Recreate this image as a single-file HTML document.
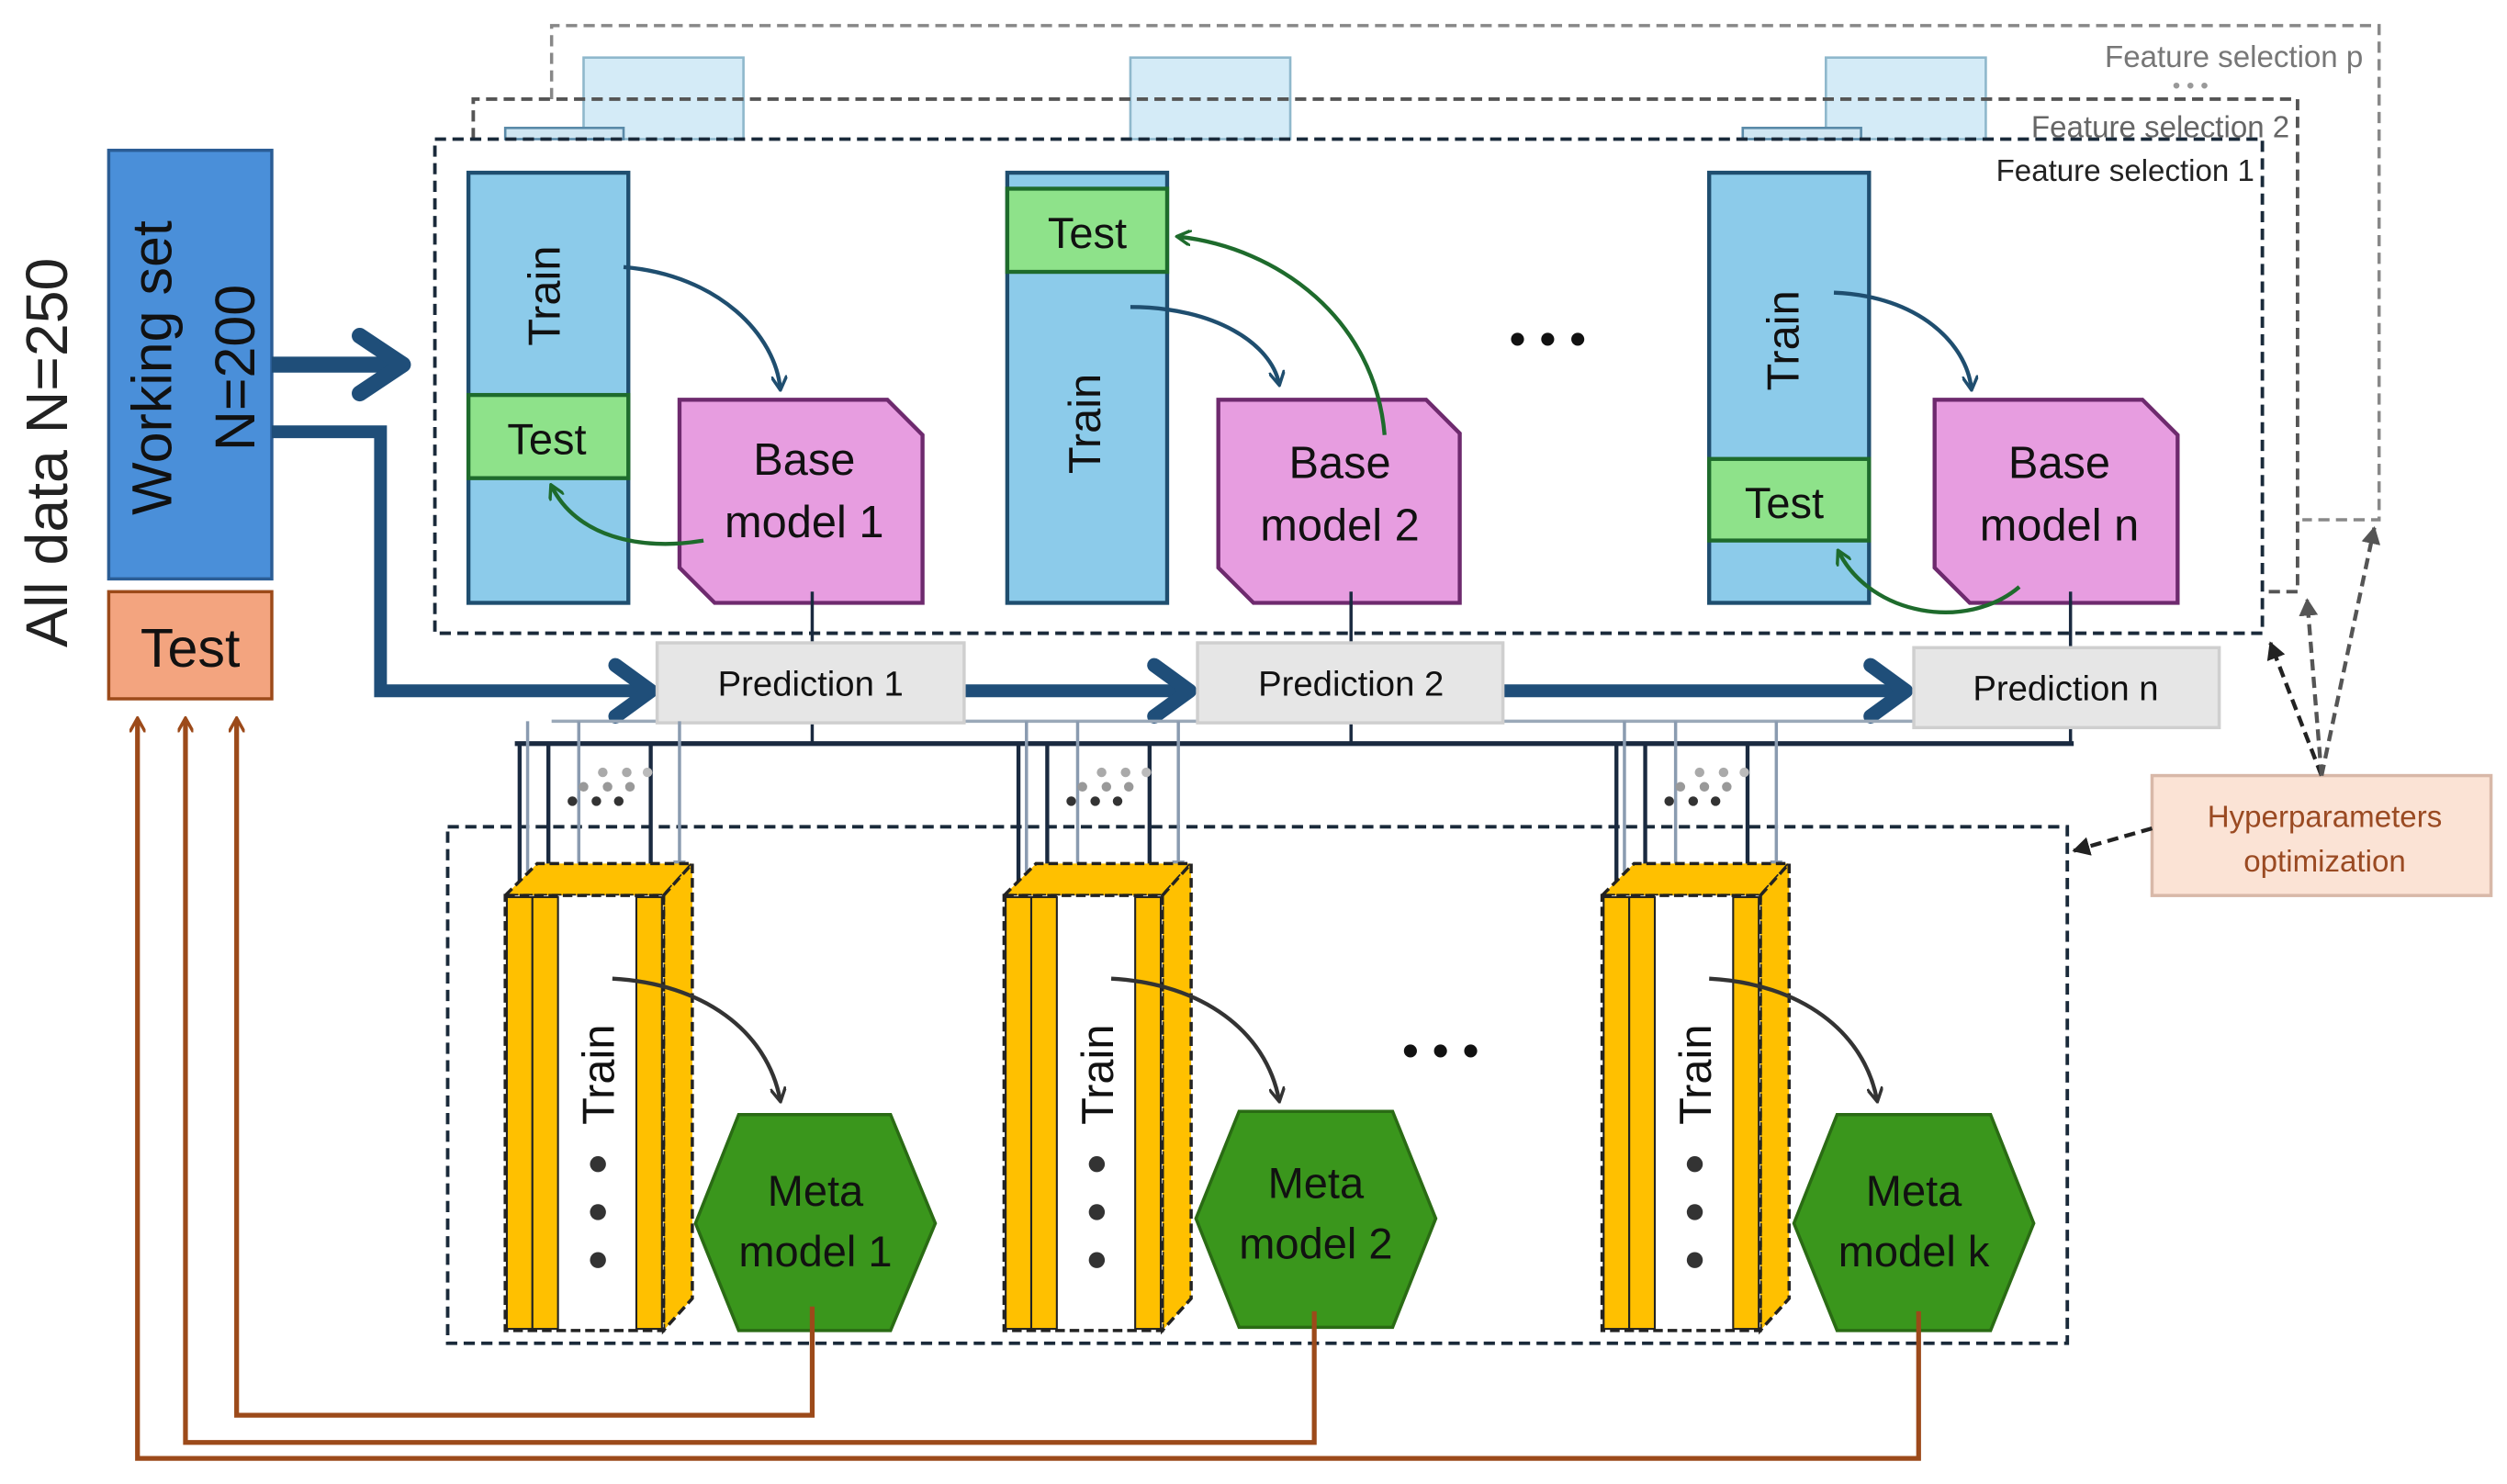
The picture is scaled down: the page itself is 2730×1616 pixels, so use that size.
<!DOCTYPE html>
<html><head><meta charset="utf-8"><style>
html,body{margin:0;padding:0;background:#fff;}
svg{display:block;}
text{font-family:"Liberation Sans",sans-serif;}
</style></head><body>
<svg width="2730" height="1616" viewBox="0 0 1568 928" preserveAspectRatio="none" xmlns="http://www.w3.org/2000/svg">
<defs>
<marker id="ab" markerWidth="10" markerHeight="10" refX="8" refY="5" orient="auto" markerUnits="userSpaceOnUse"><path d="M0,0 L9,5 L0,10" fill="none" stroke="#1f4e6f" stroke-width="2"/></marker>
<marker id="ag" markerWidth="10" markerHeight="10" refX="8" refY="5" orient="auto" markerUnits="userSpaceOnUse"><path d="M0,0 L9,5 L0,10" fill="none" stroke="#1e6b2c" stroke-width="2"/></marker>
<marker id="ak" markerWidth="10" markerHeight="10" refX="8" refY="5" orient="auto" markerUnits="userSpaceOnUse"><path d="M0,0 L9,5 L0,10" fill="none" stroke="#333" stroke-width="2"/></marker>
<marker id="ad" markerWidth="8" markerHeight="8" refX="7" refY="4" orient="auto" markerUnits="userSpaceOnUse"><path d="M0,0 L8,4 L0,8 Z" fill="#1a2a40"/></marker>
<marker id="al" markerWidth="8" markerHeight="8" refX="7" refY="4" orient="auto" markerUnits="userSpaceOnUse"><path d="M0,0 L8,4 L0,8 Z" fill="#8a9bb0"/></marker>
<marker id="abr" markerWidth="10" markerHeight="10" refX="8" refY="5" orient="auto" markerUnits="userSpaceOnUse"><path d="M0,0 L9,5 L0,10" fill="none" stroke="#9c4a1a" stroke-width="2"/></marker>
<marker id="ah" markerWidth="12" markerHeight="12" refX="10" refY="6" orient="auto" markerUnits="userSpaceOnUse"><path d="M0,0 L11,6 L0,12 Z" fill="#222"/></marker>
<marker id="ahg" markerWidth="12" markerHeight="12" refX="10" refY="6" orient="auto" markerUnits="userSpaceOnUse"><path d="M0,0 L11,6 L0,12 Z" fill="#555"/></marker>
</defs>

<rect x="365" y="36" width="100" height="51" fill="#d4ebf7" stroke="#8fb8cc" stroke-width="1.5"/>
<rect x="707" y="36" width="100" height="51" fill="#d4ebf7" stroke="#8fb8cc" stroke-width="1.5"/>
<rect x="1142" y="36" width="100" height="51" fill="#d4ebf7" stroke="#8fb8cc" stroke-width="1.5"/>
<path d="M345,62 L345,16 L1488,16 L1488,325 L1440,325" fill="none" stroke="#888" stroke-width="2" stroke-dasharray="7,4"/>
<rect x="316" y="80" width="74" height="7" fill="#cfe6f2" stroke="#5a8aa8" stroke-width="1.5"/>
<rect x="1090" y="80" width="74" height="7" fill="#cfe6f2" stroke="#5a8aa8" stroke-width="1.5"/>
<path d="M296,87 L296,62 L1437,62 L1437,370 L1415,370" fill="none" stroke="#555" stroke-width="2.2" stroke-dasharray="7,4"/>
<rect x="272" y="87" width="1143" height="309" fill="none" stroke="#1a2a3a" stroke-width="2.2" stroke-dasharray="7,4"/>
<text x="1478" y="42" font-size="19" fill="#777" text-anchor="end">Feature selection p</text>
<text x="1370" y="58" font-size="14" fill="#999" text-anchor="middle">• • •</text>
<text x="1432" y="86" font-size="19" fill="#666" text-anchor="end">Feature selection 2</text>
<text x="1410" y="113" font-size="19" fill="#222" text-anchor="end">Feature selection 1</text>

<text transform="translate(42,283) rotate(-90)" font-size="37" fill="#222" text-anchor="middle">All data N=250</text>
<rect x="68" y="94" width="102" height="268" fill="#4a8fd9" stroke="#2b5d95" stroke-width="2"/>
<text transform="translate(107,230) rotate(-90)" font-size="35" fill="#111" text-anchor="middle">Working set</text>
<text transform="translate(159,230) rotate(-90)" font-size="35" fill="#111" text-anchor="middle">N=200</text>
<rect x="68" y="370" width="102" height="67" fill="#f3a47f" stroke="#9c4a1a" stroke-width="2"/>
<text x="119" y="417" font-size="34" fill="#111" text-anchor="middle">Test</text>

<path d="M170,228 L250,228" stroke="#1f4e79" stroke-width="10" fill="none"/>
<path d="M225,210 L252,228 L225,246" stroke="#1f4e79" stroke-width="10" fill="none" stroke-linecap="round" stroke-linejoin="round"/>
<path d="M170,270 L238,270 L238,432 L405,432" stroke="#1f4e79" stroke-width="8" fill="none"/>
<path d="M385,416 L407,432 L385,448" stroke="#1f4e79" stroke-width="9" fill="none" stroke-linecap="round" stroke-linejoin="round"/>
<path d="M603,432 L742,432" stroke="#1f4e79" stroke-width="8" fill="none"/>
<path d="M722,416 L744,432 L722,448" stroke="#1f4e79" stroke-width="9" fill="none" stroke-linecap="round" stroke-linejoin="round"/>
<path d="M940,432 L1190,432" stroke="#1f4e79" stroke-width="8" fill="none"/>
<path d="M1170,416 L1192,432 L1170,448" stroke="#1f4e79" stroke-width="9" fill="none" stroke-linecap="round" stroke-linejoin="round"/>

<rect x="293" y="108" width="100" height="269" fill="#8ccbea" stroke="#1f4e6f" stroke-width="2.5"/>
<rect x="293" y="247" width="100" height="52" fill="#8ee28a" stroke="#1e6b2c" stroke-width="2.5"/>
<text transform="translate(350,185) rotate(-90)" font-size="28" fill="#111" text-anchor="middle">Train</text>
<text x="342" y="284" font-size="27" fill="#111" text-anchor="middle">Test</text>
<path d="M425,250 L555,250 L577,272 L577,377 L447,377 L425,355 Z" fill="#e79de0" stroke="#6e2a6e" stroke-width="2.5"/>
<text x="503" y="297" font-size="28" fill="#111" text-anchor="middle">Base</text>
<text x="503" y="336" font-size="28" fill="#111" text-anchor="middle">model 1</text>
<path d="M390,167 C450,172 485,210 488,243" fill="none" stroke="#1f4e6f" stroke-width="2.5" marker-end="url(#ab)"/>
<path d="M440,338 C400,345 360,335 345,304" fill="none" stroke="#1e6b2c" stroke-width="2.5" marker-end="url(#ag)"/>

<rect x="630" y="108" width="100" height="269" fill="#8ccbea" stroke="#1f4e6f" stroke-width="2.5"/>
<rect x="630" y="118" width="100" height="52" fill="#8ee28a" stroke="#1e6b2c" stroke-width="2.5"/>
<text transform="translate(688,265) rotate(-90)" font-size="28" fill="#111" text-anchor="middle">Train</text>
<text x="680" y="155" font-size="27" fill="#111" text-anchor="middle">Test</text>
<path d="M762,250 L892,250 L913,271 L913,377 L784,377 L762,355 Z" fill="#e79de0" stroke="#6e2a6e" stroke-width="2.5"/>
<text x="838" y="299" font-size="28" fill="#111" text-anchor="middle">Base</text>
<text x="838" y="338" font-size="28" fill="#111" text-anchor="middle">model 2</text>
<path d="M707,192 C760,192 795,215 800,240" fill="none" stroke="#1f4e6f" stroke-width="2.5" marker-end="url(#ab)"/>
<path d="M866,272 C860,200 800,155 737,148" fill="none" stroke="#1e6b2c" stroke-width="2.5" marker-end="url(#ag)"/>

<text x="968" y="222" font-size="30" fill="#111" text-anchor="middle">• • •</text>

<rect x="1069" y="108" width="100" height="269" fill="#8ccbea" stroke="#1f4e6f" stroke-width="2.5"/>
<rect x="1069" y="287" width="100" height="51" fill="#8ee28a" stroke="#1e6b2c" stroke-width="2.5"/>
<text transform="translate(1125,213) rotate(-90)" font-size="28" fill="#111" text-anchor="middle">Train</text>
<text x="1116" y="324" font-size="27" fill="#111" text-anchor="middle">Test</text>
<path d="M1210,250 L1340,250 L1362,272 L1362,377 L1232,377 L1210,355 Z" fill="#e79de0" stroke="#6e2a6e" stroke-width="2.5"/>
<text x="1288" y="299" font-size="28" fill="#111" text-anchor="middle">Base</text>
<text x="1288" y="338" font-size="28" fill="#111" text-anchor="middle">model n</text>
<path d="M1147,183 C1200,185 1230,215 1233,243" fill="none" stroke="#1f4e6f" stroke-width="2.5" marker-end="url(#ab)"/>
<path d="M1263,367 C1230,395 1170,385 1150,345" fill="none" stroke="#1e6b2c" stroke-width="2.5" marker-end="url(#ag)"/>

<path d="M508,370 L508,465 M845,370 L845,465 M1295,370 L1295,465" stroke="#1a2a40" stroke-width="2"/>
<path d="M322,465 L1297,465" stroke="#1a2a40" stroke-width="3"/>
<path d="M345,451 L1280,451" stroke="#9aa8b8" stroke-width="2"/>

<rect x="411" y="402" width="192" height="50" fill="#e6e6e6" stroke="#cfcfcf" stroke-width="2"/>
<text x="507" y="435" font-size="22" fill="#111" text-anchor="middle">Prediction 1</text>
<rect x="749" y="402" width="191" height="50" fill="#e6e6e6" stroke="#cfcfcf" stroke-width="2"/>
<text x="845" y="435" font-size="22" fill="#111" text-anchor="middle">Prediction 2</text>
<rect x="1197" y="405" width="191" height="50" fill="#e6e6e6" stroke="#cfcfcf" stroke-width="2"/>
<text x="1292" y="438" font-size="22" fill="#111" text-anchor="middle">Prediction n</text>

<rect x="280" y="517" width="1013" height="323" fill="none" stroke="#1a2a3a" stroke-width="2.2" stroke-dasharray="7,4"/>

<g id="g1">
<path d="M330,451 L330,545 M362,451 L362,545 M425,451 L425,545" stroke="#8a9bb0" stroke-width="2" marker-end="url(#al)"/>
<path d="M325,465 L325,558 M343,465 L343,558 M407,465 L407,558" stroke="#1a2a40" stroke-width="2.5" marker-end="url(#ad)"/>
<circle cx="358" cy="501" r="3" fill="#333"/><circle cx="373" cy="501" r="3" fill="#333"/><circle cx="387" cy="501" r="3" fill="#333"/>
<circle cx="365" cy="492" r="3" fill="#999"/><circle cx="380" cy="492" r="3" fill="#999"/><circle cx="394" cy="492" r="3" fill="#999"/>
<circle cx="377" cy="483" r="3" fill="#aaa"/><circle cx="392" cy="483" r="3" fill="#aaa"/><circle cx="405" cy="483" r="3" fill="#bbb"/>
<path d="M316,560 L336,540 L433,540 L415,560 Z" fill="#ffc000" stroke="#222" stroke-width="2" stroke-dasharray="6,3"/>
<path d="M415,560 L433,540 L433,812 L415,832 Z" fill="#ffc000" stroke="#222" stroke-width="2" stroke-dasharray="6,3"/>
<rect x="316" y="560" width="99" height="272" fill="#fff" stroke="#222" stroke-width="2" stroke-dasharray="6,3"/>
<rect x="317" y="561" width="16" height="270" fill="#ffc000" stroke="#222" stroke-width="1.2"/>
<rect x="333" y="561" width="16" height="270" fill="#ffc000" stroke="#222" stroke-width="1.2"/>
<rect x="398" y="561" width="16" height="270" fill="#ffc000" stroke="#222" stroke-width="1.2"/>
<text transform="translate(384,672) rotate(-90)" font-size="28" fill="#111" text-anchor="middle">Train</text>
<circle cx="374" cy="728" r="5" fill="#333"/><circle cx="374" cy="758" r="5" fill="#333"/><circle cx="374" cy="788" r="5" fill="#333"/>
<path d="M383,612 C440,615 480,645 488,688" fill="none" stroke="#333" stroke-width="2.5" marker-end="url(#ak)"/>
</g>
<use href="#g1" transform="translate(312,0)"/>
<use href="#g1" transform="translate(686,0)"/>

<path d="M435,765 L462,697 L557,697 L585,765 L557,832 L462,832 Z" fill="#3a961c" stroke="#2a6b14" stroke-width="2"/>
<text x="510" y="754" font-size="27" fill="#111" text-anchor="middle">Meta</text>
<text x="510" y="792" font-size="27" fill="#111" text-anchor="middle">model 1</text>
<path d="M748,762 L775,695 L871,695 L898,762 L871,830 L775,830 Z" fill="#3a961c" stroke="#2a6b14" stroke-width="2"/>
<text x="823" y="749" font-size="27" fill="#111" text-anchor="middle">Meta</text>
<text x="823" y="787" font-size="27" fill="#111" text-anchor="middle">model 2</text>
<path d="M1122,765 L1149,697 L1245,697 L1272,765 L1245,832 L1149,832 Z" fill="#3a961c" stroke="#2a6b14" stroke-width="2"/>
<text x="1197" y="754" font-size="27" fill="#111" text-anchor="middle">Meta</text>
<text x="1197" y="792" font-size="27" fill="#111" text-anchor="middle">model k</text>
<text x="901" y="667" font-size="30" fill="#111" text-anchor="middle">• • •</text>

<path d="M508,817 L508,885 L148,885 L148,450" fill="none" stroke="#9c4a1a" stroke-width="3" marker-end="url(#abr)"/>
<path d="M822,820 L822,902 L116,902 L116,450" fill="none" stroke="#9c4a1a" stroke-width="3" marker-end="url(#abr)"/>
<path d="M1200,820 L1200,912 L86,912 L86,450" fill="none" stroke="#9c4a1a" stroke-width="3" marker-end="url(#abr)"/>

<rect x="1346" y="485" width="212" height="75" fill="#fbe3d5" stroke="#d8b8a8" stroke-width="2"/>
<text x="1454" y="517" font-size="19" fill="#9a4a22" text-anchor="middle">Hyperparameters</text>
<text x="1454" y="545" font-size="19" fill="#9a4a22" text-anchor="middle">optimization</text>
<path d="M1452,485 L1420,402" stroke="#222" stroke-width="2.5" stroke-dasharray="7,4" marker-end="url(#ah)"/>
<path d="M1452,485 L1443,375" stroke="#555" stroke-width="2.5" stroke-dasharray="7,4" marker-end="url(#ahg)"/>
<path d="M1452,485 L1485,330" stroke="#555" stroke-width="2.5" stroke-dasharray="7,4" marker-end="url(#ahg)"/>
<path d="M1346,518 L1297,532" stroke="#222" stroke-width="2.5" stroke-dasharray="7,4" marker-end="url(#ah)"/>
</svg>
</body></html>
